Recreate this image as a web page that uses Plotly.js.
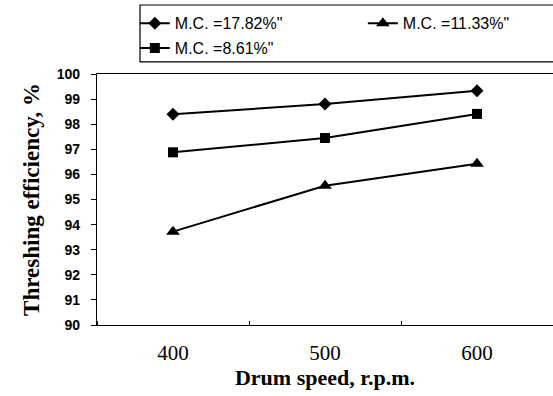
<!DOCTYPE html>
<html>
<head>
<meta charset="utf-8">
<script src="https://cdn.plot.ly/plotly-3.0.1.min.js"></script>
<style>html,body{margin:0;padding:0;background:#fff;}#chart{width:553px;height:396px;}</style>
</head>
<body>
<div id="chart"></div>
<script>
var drumSpeed = [400, 500, 600];
var seriesNames = ['M.C. =17.82%"', 'M.C. =11.33%"', 'M.C. =8.61%"'];
var mc1782 = [98.4, 98.8, 99.33];
var mc1133 = [93.72, 95.55, 96.42];
var mc861 = [96.88, 97.45, 98.41];
var yTicks = [90, 91, 92, 93, 94, 95, 96, 97, 98, 99, 100];

var symbols = ['diamond', 'triangle-up', 'square'];
var legendIds = ['legend', 'legend2', 'legend'];
var values = [mc1782, mc1133, mc861];
var traces = values.map(function (v, i) {
  return {
    x: drumSpeed, y: v, name: seriesNames[i], type: 'scatter', mode: 'lines+markers',
    legend: legendIds[i], legendgroup: 'g' + i,
    line: {color: '#000', width: 2},
    marker: {symbol: symbols[i], size: i === 1 ? 12 : 10, color: '#000'}
  };
});

var legendFont = {family: 'Liberation Sans, Arial, sans-serif', size: 16, color: '#000'};
var layout = {
  width: 553, height: 396,
  margin: {l: 97, r: 0, t: 74, b: 71},
  paper_bgcolor: '#fff', plot_bgcolor: '#fff',
  showlegend: true,
  shapes: [{
    type: 'rect', xref: 'paper', yref: 'paper', x0: 0.0943, x1: 1.1, y0: 1.048, y1: 1.275,
    line: {color: '#000', width: 1.2}, fillcolor: 'rgba(0,0,0,0)', layer: 'above'
  }],
  legend: {
    orientation: 'v', x: 0.083, xanchor: 'left', y: 1.27, yanchor: 'top',
    borderwidth: 0, bgcolor: 'rgba(0,0,0,0)', font: legendFont,
    itemwidth: 30, tracegroupgap: 1
  },
  legend2: {
    orientation: 'v', x: 0.583, xanchor: 'left', y: 1.27, yanchor: 'top',
    borderwidth: 0, bgcolor: 'rgba(0,0,0,0)', font: legendFont,
    itemwidth: 30
  },
  xaxis: {
    range: [350, 650], tickvals: drumSpeed, ticktext: drumSpeed.map(String),
    ticks: '', showgrid: false, zeroline: false, ticklabelstandoff: 9,
    showline: true, linecolor: '#000', linewidth: 1.2, mirror: true,
    tickfont: {family: 'Liberation Serif, Times New Roman, serif', size: 21, color: '#000'},
    minor: {tickmode: 'linear', tick0: 350, dtick: 100, ticks: 'inside', ticklen: 4, tickcolor: '#000', showgrid: false},
    title: {text: '<b>Drum speed, r.p.m.</b>', standoff: 4,
      font: {family: 'Liberation Serif, Times New Roman, serif', size: 22, color: '#000'}}
  },
  yaxis: {
    range: [90, 100], tickvals: yTicks, ticktext: yTicks.map(String),
    ticks: 'outside', ticklen: 5, tickcolor: '#000', showgrid: false, zeroline: false,
    showline: true, linecolor: '#000', linewidth: 1.2, ticklabelstandoff: 8,
    tickfont: {family: 'Liberation Sans, Arial, sans-serif', size: 14, color: '#000', weight: 'bold'},
    title: {text: '<b>Threshing efficiency, %</b>', standoff: 10,
      font: {family: 'Liberation Serif, Times New Roman, serif', size: 23, color: '#000'}}
  }
};

Plotly.newPlot('chart', traces, layout, {displayModeBar: false, staticPlot: true});
</script>
</body>
</html>
